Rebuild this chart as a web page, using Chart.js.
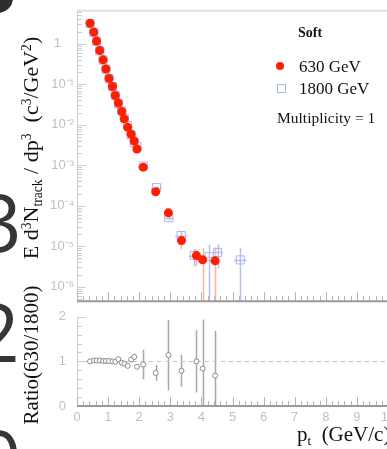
<!DOCTYPE html>
<html lang="en">
<head>
<meta charset="UTF-8">
<title>Soft spectrum 630 / 1800 GeV</title>
<script src="https://cdn.jsdelivr.net/npm/chart.js"></script>
<style>
  body { margin: 0; width: 387px; height: 449px; overflow: hidden; background: #fff; }
  #wrap { position: relative; width: 400px; height: 449px; }
  canvas { position: absolute; left: 0; }
  .txt { position: absolute; font-family: 'Liberation Serif', serif; color: #111; white-space: nowrap; }
  .vt { transform: translate(-50%, -50%) rotate(-90deg); }
  .mid { transform: translateY(-50%); }
  .sup { font-size: 0.62em; position: relative; top: -0.55em; }
  .sub { font-size: 0.62em; position: relative; top: 0.3em; }
  .big { position: absolute; font-family: 'Open Sans', sans-serif; font-size: 80px; line-height: 1; color: #363636; }
</style>
</head>
<body>
<div id="wrap">
  <div style="position:absolute;left:-17px;top:-17px;width:30px;height:30px;border-radius:50%;background:#2e2e2e"></div>
  <div class="big" style="left:-24px;top:181px">3</div>
  <div class="big" style="left:-26px;top:291px">2</div>
  <div class="big" style="left:-24px;top:418px">0</div>

  <canvas id="spectrum" width="400" height="312" style="top:0"></canvas>
  <canvas id="ratio" width="400" height="151" style="top:298px"></canvas>

  <div class="txt vt" style="left:31px;top:148px;font-size:22px">E d<span class="sup">3</span>N<span class="sub">track</span> / dp<span class="sup">3</span>&nbsp; (c<span class="sup">3</span>/GeV<span class="sup">2</span>)</div>
  <div class="txt vt" style="left:31px;top:355px;font-size:21px">Ratio(630/1800)</div>
  <div class="txt" style="left:297px;top:424px;font-size:21px;line-height:1">p<span class="sub">t</span>&nbsp; (GeV/c)</div>

  <div class="txt mid" style="left:298px;top:33px;font-size:14px;font-weight:bold">Soft</div>
  <div style="position:absolute;left:276px;top:62px;width:8px;height:8px;border-radius:50%;background:#ff1e00"></div>
  <div class="txt mid" style="left:299px;top:67px;font-size:17px">630 GeV</div>
  <div style="position:absolute;left:277px;top:84px;width:7px;height:7px;border:1px solid #aab4ee"></div>
  <div class="txt mid" style="left:299px;top:89px;font-size:17px">1800 GeV</div>
  <div class="txt mid" style="left:277px;top:118px;font-size:15.5px">Multiplicity = 1</div>
</div>
<script>
  // 630 GeV (red dots)
  const pt630 = [0.42, 0.54, 0.63, 0.73, 0.84, 0.93, 1.03, 1.14, 1.23, 1.33, 1.44, 1.52, 1.63, 1.74, 1.84, 1.93, 2.13, 2.53, 2.94, 3.36, 3.84, 4.04, 4.44]
  const yield630 = [3.19, 1.94, 1.16, 0.68, 0.40, 0.238, 0.139, 0.088, 0.0526, 0.0344, 0.0212, 0.0140, 0.00863, 0.00586, 0.00398, 0.00252, 8.96e-4, 2.21e-4, 6.67e-5, 1.38e-5, 5.87e-6, 4.62e-6, 4.37e-6]
  const err630 = [0.01, 0.01, 0.01, 0.01, 0.01, 0.01, 0.01, 0.01, 0.01, 0.01, 0.02, 0.02, 0.02, 0.03, 0.03, 0.04, 0.05, 0.08, 0.15, 0.4, 0.45, 1.0, 1.1]
  const xerr630 = [0.05, 0.05, 0.05, 0.05, 0.05, 0.05, 0.05, 0.05, 0.05, 0.05, 0.05, 0.05, 0.05, 0.05, 0.05, 0.05, 0.1, 0.1, 0.1, 0.12, 0.15, 0.1, 0.18]

  // 1800 GeV (open squares)
  const pt1800 = [0.42, 0.54, 0.63, 0.73, 0.84, 0.93, 1.03, 1.14, 1.23, 1.33, 1.44, 1.52, 1.63, 1.74, 1.84, 1.93, 2.13, 2.56, 2.95, 3.35, 3.77, 4.25, 4.52, 5.25]
  const yield1800 = [3.19, 1.90, 1.14, 0.667, 0.396, 0.236, 0.138, 0.088, 0.0531, 0.0328, 0.0219, 0.0147, 0.0096, 0.00563, 0.00362, 0.00286, 9.6e-4, 2.8e-4, 5.06e-5, 1.84e-5, 5.9e-6, 5.55e-6, 7.05e-6, 4.6e-6]
  const err1800 = [0.01, 0.01, 0.01, 0.01, 0.01, 0.01, 0.01, 0.01, 0.01, 0.01, 0.02, 0.02, 0.02, 0.03, 0.03, 0.04, 0.08, 0.1, 0.15, 0.3, 0.46, 1.0, 0.6, 1.0]
  const xerr1800 = [0.05, 0.05, 0.05, 0.05, 0.05, 0.05, 0.05, 0.05, 0.05, 0.05, 0.05, 0.05, 0.05, 0.05, 0.05, 0.05, 0.15, 0.18, 0.15, 0.2, 0.17, 0.15, 0.18, 0.2]

  // ratio 630/1800 at the 630 GeV bins
  const ratio = [1.0, 1.02, 1.02, 1.02, 1.01, 1.01, 1.01, 1.0, 0.99, 1.05, 0.97, 0.95, 0.9, 1.04, 1.1, 0.88, 0.93, 0.74, 1.14, 0.79, 1.0, 0.84, 0.68]
  const ratioErr = [0.01, 0.01, 0.01, 0.01, 0.01, 0.01, 0.01, 0.01, 0.02, 0.02, 0.02, 0.03, 0.03, 0.04, 0.07, 0.05, 0.33, 0.18, 0.79, 0.36, 0.7, 1.1, 1.0]

  const decadeLabels = ['1\u2002\u2002', '10\u207B\u00B9', '10\u207B\u00B2', '10\u207B\u00B3', '10\u207B\u2074', '10\u207B\u2075', '10\u207B\u2076']
  const ratioLabels = ['0', '1', '2']

  const RED = '#ff1e00'
  const BLUE = '#aab4ee'
  const TICK = '#c0c0c0'
  const tickFont = { family: "'Liberation Sans', Arial, sans-serif", size: 13 }

  const toPts = (xs, ys) => xs.map((x, i) => ({ x, y: ys[i] }))
  const line = (ctx, x1, y1, x2, y2) => { ctx.beginPath(); ctx.moveTo(x1, y1); ctx.lineTo(x2, y2); ctx.stroke() }

  // error bars, drawn under the markers
  const errorBars = {
    id: 'errorBars',
    beforeDatasetsDraw(chart) {
      const { ctx, chartArea: a, scales: { x, y } } = chart
      const yPix = v => (v <= y.min ? a.bottom + 2 : y.getPixelForValue(v))
      ctx.save()
      ctx.beginPath()
      ctx.rect(a.left, a.top, a.right - a.left, a.bottom - a.top)
      ctx.clip()
      chart.data.datasets.forEach(ds => {
        ctx.strokeStyle = ds.errColor
        ctx.lineWidth = ds.errWidth
        ds.data.forEach((p, i) => {
          const e = ds.errY[i]
          const lo = ds.relErr ? p.y * (1 - e) : p.y - e
          const hi = ds.relErr ? p.y * (1 + e) : p.y + e
          const px = Math.round(x.getPixelForValue(p.x)) + 0.5
          const py = Math.round(y.getPixelForValue(p.y)) + 0.5
          line(ctx, px, yPix(lo), px, yPix(hi))
          if (ds.errX) line(ctx, x.getPixelForValue(p.x - ds.errX[i]), py, x.getPixelForValue(p.x + ds.errX[i]), py)
        })
      })
      ctx.restore()
    }
  }

  const spectrumFrame = {
    id: 'spectrumFrame',
    afterDatasetsDraw(chart) {
      const { ctx, chartArea: a, scales: { x, y } } = chart
      ctx.save()
      ctx.strokeStyle = '#e0e0e0'; ctx.lineWidth = 2
      line(ctx, a.left, a.top, a.right + 12, a.top)
      ctx.strokeStyle = '#cdcdcd'; ctx.lineWidth = 1
      line(ctx, a.left + 0.5, a.top, a.left + 0.5, a.bottom)
      for (let e = -7; e <= 0; e++) {
        for (let m = 1; m <= 9; m++) {
          const v = m * Math.pow(10, e)
          if (v < y.min || v > y.max) continue
          const py = Math.round(y.getPixelForValue(v)) + 0.5
          line(ctx, a.left, py, a.left + (m === 1 ? 9 : 5), py)
        }
      }
      ctx.strokeStyle = '#b4b4b4'
      for (let i = 0; i <= 50; i++) {
        const px = Math.round(x.getPixelForValue(i / 5)) + 0.5
        line(ctx, px, a.bottom, px, a.bottom - (i % 5 ? 5 : 9))
      }
      ctx.strokeStyle = '#9a9a9a'; ctx.lineWidth = 2
      line(ctx, a.left, a.bottom, a.right + 12, a.bottom)
      ctx.restore()
    }
  }

  const ratioFrame = {
    id: 'ratioFrame',
    beforeDatasetsDraw(chart) {
      const { ctx, chartArea: a, scales: { y } } = chart
      ctx.save()
      ctx.strokeStyle = '#c4c4c4'; ctx.lineWidth = 1; ctx.setLineDash([4, 4])
      const py = Math.round(y.getPixelForValue(1)) + 0.5
      line(ctx, a.left, py, a.right + 12, py)
      ctx.restore()
    },
    afterDatasetsDraw(chart) {
      const { ctx, chartArea: a, scales: { x, y } } = chart
      ctx.save()
      ctx.strokeStyle = '#cdcdcd'; ctx.lineWidth = 1
      line(ctx, a.left + 0.5, a.top, a.left + 0.5, a.bottom)
      for (let i = 0; i <= 10; i++) {
        const py = Math.round(y.getPixelForValue(i / 5)) + 0.5
        line(ctx, a.left, py, a.left + (i % 5 ? 5 : 9), py)
      }
      ctx.strokeStyle = '#b4b4b4'
      for (let i = 0; i <= 50; i++) {
        const px = Math.round(x.getPixelForValue(i / 5)) + 0.5
        line(ctx, px, a.bottom, px, a.bottom - (i % 5 ? 5 : 9))
      }
      ctx.strokeStyle = '#9a9a9a'; ctx.lineWidth = 2
      line(ctx, a.left, a.bottom, a.right + 12, a.bottom)
      ctx.restore()
    }
  }

  const decadeLabel = v => {
    const e = Math.log10(v)
    if (Math.abs(e - Math.round(e)) > 1e-6) return null
    return decadeLabels[-Math.round(e)] ?? null
  }

  new Chart(document.getElementById('spectrum'), {
    type: 'scatter',
    data: {
      datasets: [
        {
          label: '630 GeV', data: toPts(pt630, yield630),
          pointStyle: 'circle', pointRadius: 4.5, backgroundColor: RED, borderWidth: 0,
          errY: err630, errX: xerr630, relErr: true, errColor: '#ffb2a6', errWidth: 1.5
        },
        {
          label: '1800 GeV', data: toPts(pt1800, yield1800),
          pointStyle: 'rect', pointRadius: 5.7, backgroundColor: 'rgba(255,255,255,0)', borderColor: BLUE, borderWidth: 1,
          errY: err1800, errX: xerr1800, relErr: true, errColor: '#b6c0f2', errWidth: 1.5
        }
      ]
    },
    options: {
      responsive: false,
      animation: false,
      events: [],
      layout: { padding: { left: 0, right: 12, top: 8, bottom: 5 } },
      plugins: { legend: { display: false }, tooltip: { enabled: false } },
      scales: {
        x: { type: 'linear', min: 0, max: 10, display: false },
        y: {
          type: 'logarithmic', min: 4.4e-7, max: 6.5,
          afterFit: s => { s.width = 77 },
          grid: { display: false, drawTicks: false },
          border: { display: false },
          ticks: { autoSkip: false, padding: 3, color: TICK, font: tickFont, callback: decadeLabel }
        }
      }
    },
    plugins: [errorBars, spectrumFrame]
  })

  new Chart(document.getElementById('ratio'), {
    type: 'scatter',
    data: {
      datasets: [
        {
          label: 'Ratio(630/1800)', data: toPts(pt630, ratio),
          pointStyle: 'circle', pointRadius: 2.5, backgroundColor: '#fff', borderColor: '#8a8a8a', borderWidth: 1,
          errY: ratioErr, relErr: false, errColor: '#a8a8a8', errWidth: 1.5
        }
      ]
    },
    options: {
      responsive: false,
      animation: false,
      events: [],
      layout: { padding: { left: 0, right: 12, top: 9, bottom: 0 } },
      plugins: { legend: { display: false }, tooltip: { enabled: false } },
      scales: {
        x: {
          type: 'linear', min: 0, max: 10,
          afterFit: s => { s.height = 43 },
          grid: { display: false, drawTicks: false },
          border: { display: false },
          ticks: { stepSize: 1, padding: 4, color: TICK, font: tickFont }
        },
        y: {
          type: 'linear', min: 0, max: 2,
          afterFit: s => { s.width = 77 },
          grid: { display: false, drawTicks: false },
          border: { display: false },
          ticks: { stepSize: 1, padding: 11, color: TICK, font: tickFont, callback: v => ratioLabels[v] ?? null }
        }
      }
    },
    plugins: [errorBars, ratioFrame]
  })
</script>
</body>
</html>
